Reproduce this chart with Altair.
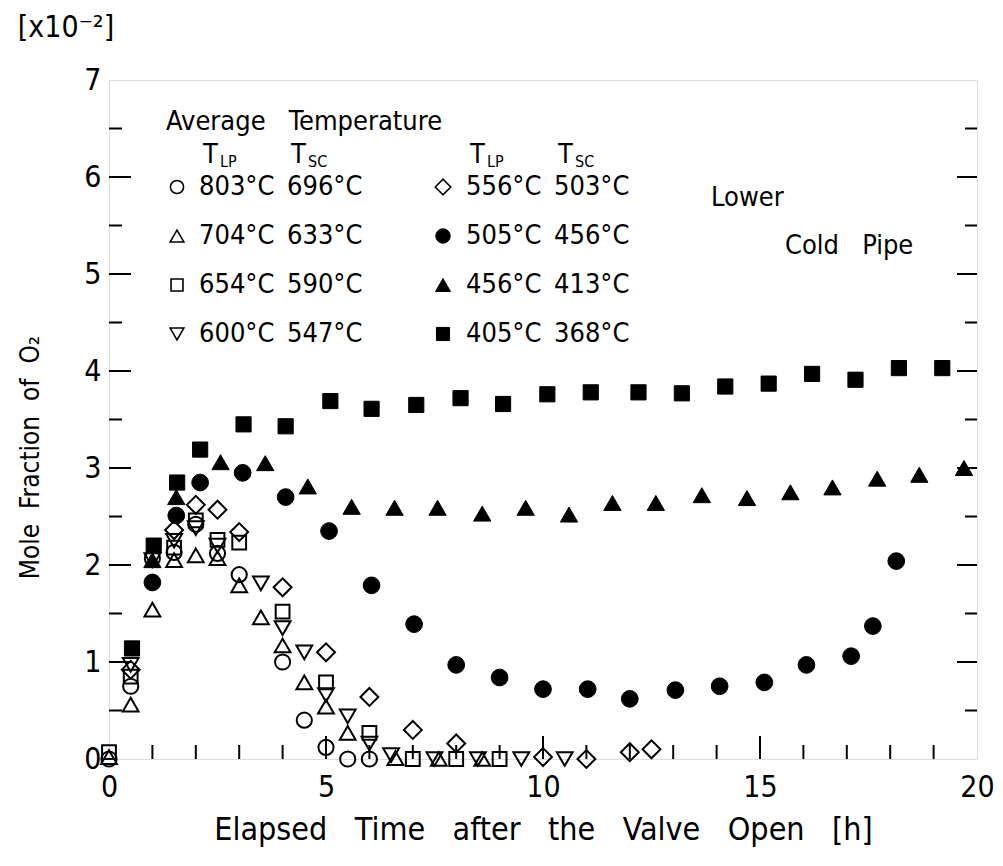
import altair as alt
import pandas as pd

# ---------------- data ----------------
t_803 = [0.0, 0.5, 1.0, 1.5, 2.0, 2.5, 3.0, 4.0, 4.5, 5.0, 5.5, 6.0]
v_803 = [0.0, 0.75, 2.07, 2.13, 2.42, 2.12, 1.90, 1.00, 0.40, 0.12, 0.0, 0.0]

t_704 = [0.0, 0.5, 1.0, 1.5, 2.0, 2.5, 3.0, 3.5, 4.0, 4.5, 5.0, 5.5, 6.6, 7.6, 8.6]
v_704 = [0.02, 0.56, 1.54, 2.05, 2.10, 2.07, 1.79, 1.46, 1.17, 0.79, 0.54, 0.27, 0.01, 0.0, 0.0]

t_654 = [0.0, 0.5, 1.5, 2.0, 2.5, 3.0, 4.0, 5.0, 6.0, 7.0, 8.0, 9.0]
v_654 = [0.07, 0.85, 2.18, 2.46, 2.26, 2.23, 1.52, 0.79, 0.27, 0.0, 0.0, 0.0]

t_600 = [0.5, 1.0, 1.5, 2.0, 2.5, 3.5, 4.0, 4.5, 5.0, 5.5, 6.0, 6.5, 7.5, 8.5, 9.5, 10.5]
v_600 = [0.97, 2.05, 2.25, 2.38, 2.20, 1.81, 1.35, 1.10, 0.66, 0.44, 0.16, 0.04, 0.0, 0.0, 0.0, 0.0]

t_556 = [0.5, 1.5, 2.0, 2.5, 3.0, 4.0, 5.0, 6.0, 7.0, 8.0, 10.0, 11.0, 12.0, 12.5]
v_556 = [0.92, 2.36, 2.62, 2.57, 2.34, 1.77, 1.10, 0.64, 0.30, 0.16, 0.02, 0.0, 0.07, 0.10]

t_505 = [1.0, 1.55, 2.1, 3.08, 4.07, 5.07, 6.05, 7.03, 8.0, 9.0, 10.0, 11.03, 12.0, 13.05,
         14.07, 15.1, 16.07, 17.1, 17.6, 18.14]
v_505 = [1.82, 2.51, 2.85, 2.95, 2.70, 2.35, 1.79, 1.39, 0.97, 0.84, 0.72, 0.72, 0.62, 0.71,
         0.75, 0.79, 0.97, 1.06, 1.37, 2.04]

t_456 = [1.0, 1.55, 2.57, 3.6, 4.58, 5.59, 6.58, 7.57, 8.6, 9.6, 10.6, 11.6, 12.6, 13.66,
         14.7, 15.7, 16.67, 17.7, 18.67, 19.7]
v_456 = [2.05, 2.70, 3.06, 3.05, 2.81, 2.60, 2.59, 2.59, 2.53, 2.59, 2.52, 2.64, 2.64, 2.72,
         2.69, 2.75, 2.80, 2.89, 2.93, 3.00]

t_405 = [0.53, 1.03, 1.57, 2.1, 3.1, 4.07, 5.1, 6.05, 7.08, 8.1, 9.08, 10.1, 11.1, 12.2,
         13.2, 14.2, 15.2, 16.2, 17.2, 18.2, 19.2]
v_405 = [1.14, 2.20, 2.85, 3.19, 3.45, 3.43, 3.69, 3.61, 3.65, 3.72, 3.66, 3.76, 3.78, 3.78,
         3.77, 3.84, 3.87, 3.97, 3.91, 4.03, 4.03]

tlp_temps = [803, 704, 654, 600, 556, 505, 456, 405]
tsc_temps = [696, 633, 590, 547, 503, 456, 413, 368]

x_labels = [0, 5, 10, 15, 20]
y_labels = [0, 1, 2, 3, 4, 5, 6, 7]
x_minor = [1, 2, 3, 4, 6, 7, 8, 9, 11, 12, 13, 14, 16, 17, 18, 19]
x_major = [5, 10, 15]
y_minor = [0.5, 1.5, 2.5, 3.5, 4.5, 5.5, 6.5]
y_major = [1, 2, 3, 4, 5, 6]

# ---------------- style / layout ----------------
W, H = 868, 679
FONT = "Liberation Sans Narrow, DejaVu Sans Condensed, DejaVu Sans"
NB = "\u00a0"
SP2 = NB * 2
SP3 = NB * 3

series = [
    ("803", t_803, v_803, "circle", False, 230),
    ("704", t_704, v_704, "triangle-up", False, 250),
    ("654", t_654, v_654, "square", False, 190),
    ("600", t_600, v_600, "triangle-down", False, 250),
    ("556", t_556, v_556, "diamond", False, 320),
    ("505", t_505, v_505, "circle", True, 280),
    ("456", t_456, v_456, "triangle-up", True, 300),
    ("405", t_405, v_405, "square", True, 230),
]

xscale = alt.Scale(domain=[0, 20], nice=False, zero=False)
yscale = alt.Scale(domain=[0, 7], nice=False, zero=False)

xaxis = alt.Axis(
    values=x_labels,
    title=SP3.join(["Elapsed", "Time", "after", "the", "Valve", "Open", "[h]"]),
    ticks=False, domain=False, grid=False, labelFontSize=30, labelFont=FONT,
    labelPadding=13, labelFlush=False, titleFont=FONT, titleFontSize=32,
    titleFontWeight="normal", titlePadding=12, labelColor="black", titleColor="black",
)
yaxis = alt.Axis(
    values=y_labels, title=SP2.join(["Mole", "Fraction", "of", "O\u2082"]),
    ticks=False, domain=False, grid=False, labelFontSize=30, labelFont=FONT,
    labelPadding=8, labelFlush=False, titleFont=FONT, titleFontSize=26,
    titleFontWeight="normal", titleX=-79, titleY=377, titleAngle=270,
    titleAlign="center", titleBaseline="middle",
    labelColor="black", titleColor="black",
)

X = lambda f: alt.X(f, type="quantitative", scale=xscale, axis=xaxis)
Y = lambda f: alt.Y(f, type="quantitative", scale=yscale, axis=yaxis)

layers = []
for name, ts, vs, shape, filled, size in series:
    df = pd.DataFrame({"t": ts, "v": vs})
    if filled:
        m = alt.Chart(df).mark_point(shape=shape, filled=True, fill="black",
                                     stroke="black", strokeWidth=1, size=size, opacity=1)
    else:
        m = alt.Chart(df).mark_point(shape=shape, filled=False, stroke="black",
                                     strokeWidth=2, size=size, opacity=1)
    layers.append(m.encode(x=X("t"), y=Y("v")))

# inward tick marks
def xticks(vals, length):
    return alt.Chart(pd.DataFrame({"t": vals})).mark_rule(color="black", strokeWidth=2).encode(
        x=X("t"), y=alt.value(H), y2=alt.value(H - length))

def yticks(vals, length, right=False):
    x0 = W if right else 0
    x1 = W - length if right else length
    return alt.Chart(pd.DataFrame({"v": vals})).mark_rule(color="black", strokeWidth=2).encode(
        y=Y("v"), x=alt.value(x0), x2=alt.value(x1))

layers += [xticks(x_minor, 14), xticks(x_major, 23),
           yticks(y_minor, 13), yticks(y_major, 22),
           yticks(y_minor, 12, True), yticks(y_major, 20, True)]

# ---------------- legend (annotation inside the plot) ----------------
col_sym = [68, 334]
col_t1 = [90, 357]
col_t2 = [178, 445]
row_y = [107, 156, 205, 254]
hdr_y = 75

txt_rows = []
for i, (name, ts, vs, shape, filled, size) in enumerate(series):
    c, r = i // 4, i % 4
    txt_rows.append({"x": col_t1[c], "y": row_y[r], "s": f"{tlp_temps[i]}°C"})
    txt_rows.append({"x": col_t2[c], "y": row_y[r], "s": f"{tsc_temps[i]}°C"})
    if filled:
        sym = alt.Chart(pd.DataFrame({"a": [0]})).mark_point(
            shape=shape, filled=True, fill="black", stroke="black", strokeWidth=1,
            size=size * 0.75, opacity=1)
    else:
        sym = alt.Chart(pd.DataFrame({"a": [0]})).mark_point(
            shape=shape, filled=False, stroke="black", strokeWidth=1.6,
            size=size * 0.75, opacity=1)
    layers.append(sym.encode(x=alt.value(col_sym[c]), y=alt.value(row_y[r])))

txt_rows.append({"x": 57, "y": 42, "s": SP3.join(["Average", "Temperature"])})
txt_rows.append({"x": 602, "y": 118, "s": "Lower"})
txt_rows.append({"x": 676, "y": 166, "s": SP3.join(["Cold", "Pipe"])})
legend_txt = alt.Chart(pd.DataFrame(txt_rows)).mark_text(
    align="left", baseline="middle", font=FONT, fontSize=27, color="black").encode(
    x=alt.X("x:Q", scale=None), y=alt.Y("y:Q", scale=None), text="s:N")
layers.append(legend_txt)

# T_LP / T_SC headers
hdr_T = []
hdr_sub = []
for c in range(2):
    hdr_T.append({"x": col_t1[c] + 4, "y": hdr_y, "s": "T"})
    hdr_sub.append({"x": col_t1[c] + 21, "y": hdr_y + 7, "s": "LP"})
    hdr_T.append({"x": col_t2[c] + 4, "y": hdr_y, "s": "T"})
    hdr_sub.append({"x": col_t2[c] + 21, "y": hdr_y + 7, "s": "SC"})
layers.append(alt.Chart(pd.DataFrame(hdr_T)).mark_text(
    align="left", baseline="middle", font=FONT, fontSize=27, color="black").encode(
    x=alt.X("x:Q", scale=None), y=alt.Y("y:Q", scale=None), text="s:N"))
layers.append(alt.Chart(pd.DataFrame(hdr_sub)).mark_text(
    align="left", baseline="middle", font=FONT, fontSize=16, color="black").encode(
    x=alt.X("x:Q", scale=None), y=alt.Y("y:Q", scale=None), text="s:N"))

# exponent note
layers.append(alt.Chart(pd.DataFrame({"s": ["[x10\u207b\u00b2]"]})).mark_text(
    align="center", baseline="middle", font=FONT, fontSize=30, color="black").encode(
    x=alt.value(-43), y=alt.value(-52), text="s:N"))

chart = alt.layer(*layers).properties(
    width=W, height=H,
    autosize=alt.AutoSizeParams(type="none"),
    padding={"left": 101, "top": 72, "right": 18, "bottom": 98},
).configure_view(stroke="black", strokeWidth=2).configure(background="white")

chart.save("out.html", embed_options={"renderer": "svg", "actions": False})
